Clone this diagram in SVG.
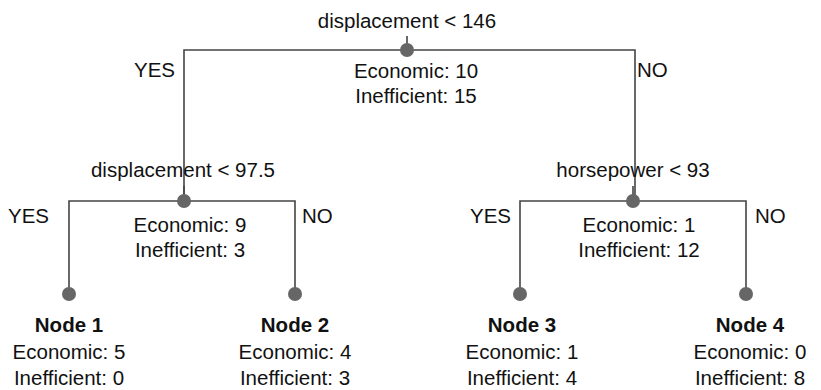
<svg xmlns="http://www.w3.org/2000/svg" width="821" height="390" viewBox="0 0 821 390">
  <style>
    text { font-family: "Liberation Sans", Arial, sans-serif; font-size: 20.5px; fill: #111; }
    .c { text-anchor: middle; }
    .b { font-weight: bold; }
    .edge { fill: none; stroke: #444; stroke-width: 1.6; }
    .dot { fill: #666; }
  </style>
  <rect width="821" height="390" fill="#fff"/>

  <!-- connectors -->
  <g id="connectors">
    <path class="edge" d="M407,36 V50 M184,200 V50 H635 V200"/>
    <path class="edge" d="M184,186 V201 M69,294 V201 H295 V294"/>
    <path class="edge" d="M633,186 V201 M520,294 V201 H746 V294"/>
  </g>

  <!-- root split -->
  <g id="root">
    <text class="c" x="407" y="28">displacement &lt; 146</text>
    <circle class="dot" cx="407" cy="50" r="7"/>
    <text class="c" x="416" y="78">Economic: 10</text>
    <text class="c" x="416" y="103">Inefficient: 15</text>
    <text x="134" y="77">YES</text>
    <text x="637" y="77">NO</text>
  </g>

  <!-- left split -->
  <g id="split-left">
    <text class="c" x="183" y="177">displacement &lt; 97.5</text>
    <circle class="dot" cx="184" cy="201" r="7"/>
    <text class="c" x="190" y="232">Economic: 9</text>
    <text class="c" x="190" y="257">Inefficient: 3</text>
    <text x="8" y="223">YES</text>
    <text x="302" y="223">NO</text>
  </g>

  <!-- right split -->
  <g id="split-right">
    <text class="c" x="633" y="177">horsepower &lt; 93</text>
    <circle class="dot" cx="633" cy="201" r="7"/>
    <text class="c" x="639" y="232">Economic: 1</text>
    <text class="c" x="639" y="257">Inefficient: 12</text>
    <text x="470" y="223">YES</text>
    <text x="755" y="223">NO</text>
  </g>

  <!-- leaves -->
  <g id="node1">
    <circle class="dot" cx="69" cy="294" r="7"/>
    <text class="c b" x="69" y="332">Node 1</text>
    <text class="c" x="69" y="359">Economic: 5</text>
    <text class="c" x="69" y="385">Inefficient: 0</text>
  </g>
  <g id="node2">
    <circle class="dot" cx="295" cy="294" r="7"/>
    <text class="c b" x="295" y="332">Node 2</text>
    <text class="c" x="295" y="359">Economic: 4</text>
    <text class="c" x="295" y="385">Inefficient: 3</text>
  </g>
  <g id="node3">
    <circle class="dot" cx="520" cy="294" r="7"/>
    <text class="c b" x="522" y="332">Node 3</text>
    <text class="c" x="522" y="359">Economic: 1</text>
    <text class="c" x="522" y="385">Inefficient: 4</text>
  </g>
  <g id="node4">
    <circle class="dot" cx="746" cy="294" r="7"/>
    <text class="c b" x="750" y="332">Node 4</text>
    <text class="c" x="750" y="359">Economic: 0</text>
    <text class="c" x="750" y="385">Inefficient: 8</text>
  </g>
</svg>
